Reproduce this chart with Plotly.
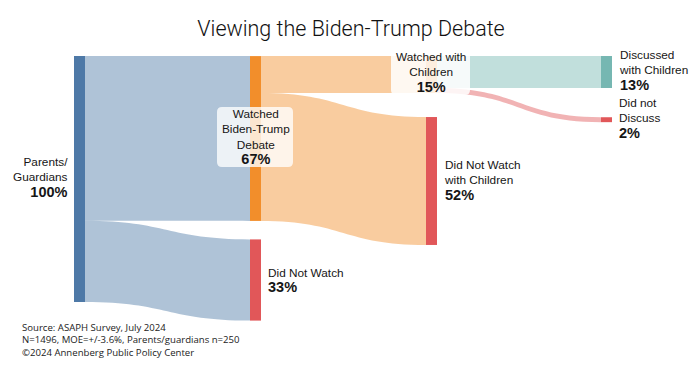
import plotly.graph_objects as go

# ---------------- data ----------------
node_names = ["Parents/<br>Guardians", "Watched<br>Biden-Trump<br>Debate", "Did Not Watch",
              "Watched with<br>Children", "Did Not Watch<br>with Children",
              "Discussed<br>with Children", "Did not<br>Discuss"]
link_source = [0, 0, 1, 1, 3, 3]
link_target = [1, 2, 3, 4, 5, 6]
link_value = [67, 33, 15, 52, 13, 2]   # percent of parents/guardians

source_lines = ["Source: ASAPH Survey, July 2024",
                "N=1496, MOE=+/-3.6%, Parents/guardians n=250",
                "\u00a92024 Annenberg Public Policy Center"]
title_text = "Viewing the Biden-Trump Debate"

# ---------------- styling / layout ----------------
# The page body has an 8px default margin; the figure is sized to fill the
# remaining window and all screen positions below are converted accordingly.
OFF = 8
W, H = 700 - OFF, 375 - OFF
def px_x(x):
    return (x - OFF) / W
def px_y(y):
    return (y - OFF) / H

BLUE, ORANGE, RED, TEAL = (78, 121, 167), (242, 142, 43), (225, 87, 89), (118, 183, 178)
def rgb(c, a=1.0):
    return f"rgba({c[0]},{c[1]},{c[2]},{a})"

node_colors = [rgb(BLUE), rgb(ORANGE), rgb(RED), rgb(ORANGE), rgb(RED), rgb(TEAL), rgb(RED)]
link_colors = [rgb(BLUE, .45), rgb(BLUE, .45), rgb(ORANGE, .45), rgb(ORANGE, .45),
               rgb(TEAL, .45), rgb(RED, .45)]

# node centre positions (screen pixels)
node_x_px = [79.5, 255.5, 255.5, 431.5, 431.5, 606.5, 606.5]
node_y_px = [179, 138.5, 280, 74.5, 181, 72, 119.7]

# node totals
node_val = []
for i in range(len(node_names)):
    vin = sum(v for s, t, v in zip(link_source, link_target, link_value) if t == i)
    vout = sum(v for s, t, v in zip(link_source, link_target, link_value) if s == i)
    node_val.append(max(vin, vout))

# node padding chosen so that 100% spans ~246px (justify layout: 4 nodes in last column)
PAD = (H - 246) / 3

fig = go.Figure(go.Sankey(
    arrangement="fixed",
    node=dict(
        label=[n.replace("<br>", " ") for n in node_names],
        color=node_colors,
        thickness=11,
        pad=PAD,
        line=dict(width=0),
        x=[px_x(x) for x in node_x_px],
        y=[px_y(y) for y in node_y_px],
    ),
    link=dict(source=link_source, target=link_target, value=link_value,
              color=link_colors, line=dict(width=0)),
    textfont=dict(color="rgba(0,0,0,0)", size=1),
    domain=dict(x=[0, 1], y=[0, 1]),
))

LABEL_FONT = dict(family="Liberation Sans, Arial, sans-serif", size=11.8, color="#161616")

# label placement: (node index, x px, y px, xanchor, align)
label_specs = [
    (0, 70, 178, "right", "right"),
    (1, 255.5, 137, "center", "center"),
    (2, 266, 280, "left", "left"),
    (3, 430.5, 72.5, "center", "center"),
    (4, 442, 180.5, "left", "left"),
    (5, 617, 70, "left", "left"),
    (6, 617, 118.5, "left", "left"),
]
annotations = []
for idx, xp, yp, xa, al in label_specs:
    txt = f"{node_names[idx]}<br><span style='font-size:14.5px'><b>{node_val[idx]}%</b></span>"
    annotations.append(dict(text=txt, x=px_x(xp), y=1 - px_y(yp), xref="paper", yref="paper",
                            xanchor=xa, yanchor="middle", align=al, showarrow=False,
                            font=LABEL_FONT))

annotations.append(dict(
    text="<br>".join(source_lines), x=px_x(20), y=1 - px_y(340), xref="paper", yref="paper",
    xanchor="left", yanchor="middle", align="left", showarrow=False,
    font=dict(family="Open Sans, sans-serif", size=9.6, color="#222222")))

# rounded translucent label boxes (screen px: x0, x1, y0(top), y1(bottom), fill)
box_specs = [
    (217, 293, 107, 167, "rgba(255,255,255,0.78)"),
    (391, 470, 50, 95, "rgba(255,255,255,0.85)"),
]
def rounded_path(x0, x1, y0, y1, r=5):
    X0, X1 = px_x(x0), px_x(x1)
    Y0, Y1 = 1 - px_y(y0), 1 - px_y(y1)   # Y0 top (larger), Y1 bottom
    rx, ry = r / W, r / H
    return (f"M {X0+rx},{Y0} L {X1-rx},{Y0} Q {X1},{Y0} {X1},{Y0-ry} "
            f"L {X1},{Y1+ry} Q {X1},{Y1} {X1-rx},{Y1} L {X0+rx},{Y1} "
            f"Q {X0},{Y1} {X0},{Y1+ry} L {X0},{Y0-ry} Q {X0},{Y0} {X0+rx},{Y0} Z")
shapes = [dict(type="path", path=rounded_path(x0, x1, y0, y1), xref="paper", yref="paper",
               fillcolor=fill, line=dict(width=0), layer="above")
          for x0, x1, y0, y1, fill in box_specs]

fig.update_layout(
    width=W, height=H,
    margin=dict(l=0, r=0, t=0, b=0),
    paper_bgcolor="white",
    title=dict(text=title_text, x=px_x(351), xanchor="center", y=1 - px_y(28), yanchor="middle",
               xref="paper", yref="container",
               font=dict(family="Roboto, sans-serif", size=21.5, color="#111111", weight=300)),
    annotations=annotations,
    shapes=shapes,
)

fig.write_html("out.html")
